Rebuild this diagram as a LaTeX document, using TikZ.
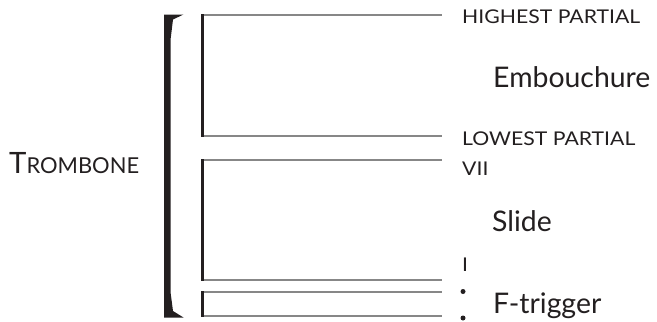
\documentclass[tikz,border=0pt]{standalone}
\usepackage{fontspec}
\setmainfont{Lato}
\definecolor{ink}{RGB}{35,31,32}
\definecolor{rule}{RGB}{135,135,135}
\tikzset{
  lbl/.style={anchor=base west, inner sep=0pt, text=ink, xscale=1.12, font=\fontsize{19}{22}\selectfont},
  big/.style={anchor=base west, inner sep=0pt, text=ink, font=\fontsize{28.5}{32}\selectfont},
  hline/.style={draw=rule, line width=1.6bp},
  dotmark/.style={circle, fill=ink, inner sep=0pt, minimum size=5bp}
}
\begin{document}
\begin{tikzpicture}[x=1bp, y=-1bp]
\path[use as bounding box] (0,0) rectangle (657,321);
% big bracket
\fill[ink] (164,14.5) -- (183.5,14.5) -- (173,19.5) -- (170.5,40) -- (170.5,292) -- (173,311) -- (183.5,317.5) -- (164,317.5) -- cycle;
% inner brackets
\foreach \t/\b in {15/136, 160/280, 292/316}{
  \draw[hline] (203,\t) -- (442,\t);
  \draw[hline] (203,\b) -- (442,\b);
  \fill[ink] (200.5,\t-0.8) rectangle (204,\b+0.8);
}
% labels
\node[lbl] (hp) at (462,23.5) {HIGHEST PARTIAL};
\node[lbl] (lp) at (462,145) {LOWEST PARTIAL};
\node[lbl] (vii) at (462,175) {VII};
\node[lbl] (one) at (462,271) {I};
\node[big] (emb) at (493,87.3) {Embouchure};
\node[big] (sl) at (492,231.5) {Slide};
\node[big] (ft) at (493,313.3) {F-trigger};
\node[anchor=base west, inner sep=0pt, text=ink] (tb) at (9,173.3) {\fontsize{29.5}{32}\selectfont T\fontsize{22}{24}\selectfont ROMBONE};
\node[dotmark] (d1) at (463,291.5) {};
\node[dotmark] (d2) at (463,318) {};
\end{tikzpicture}
\end{document}
